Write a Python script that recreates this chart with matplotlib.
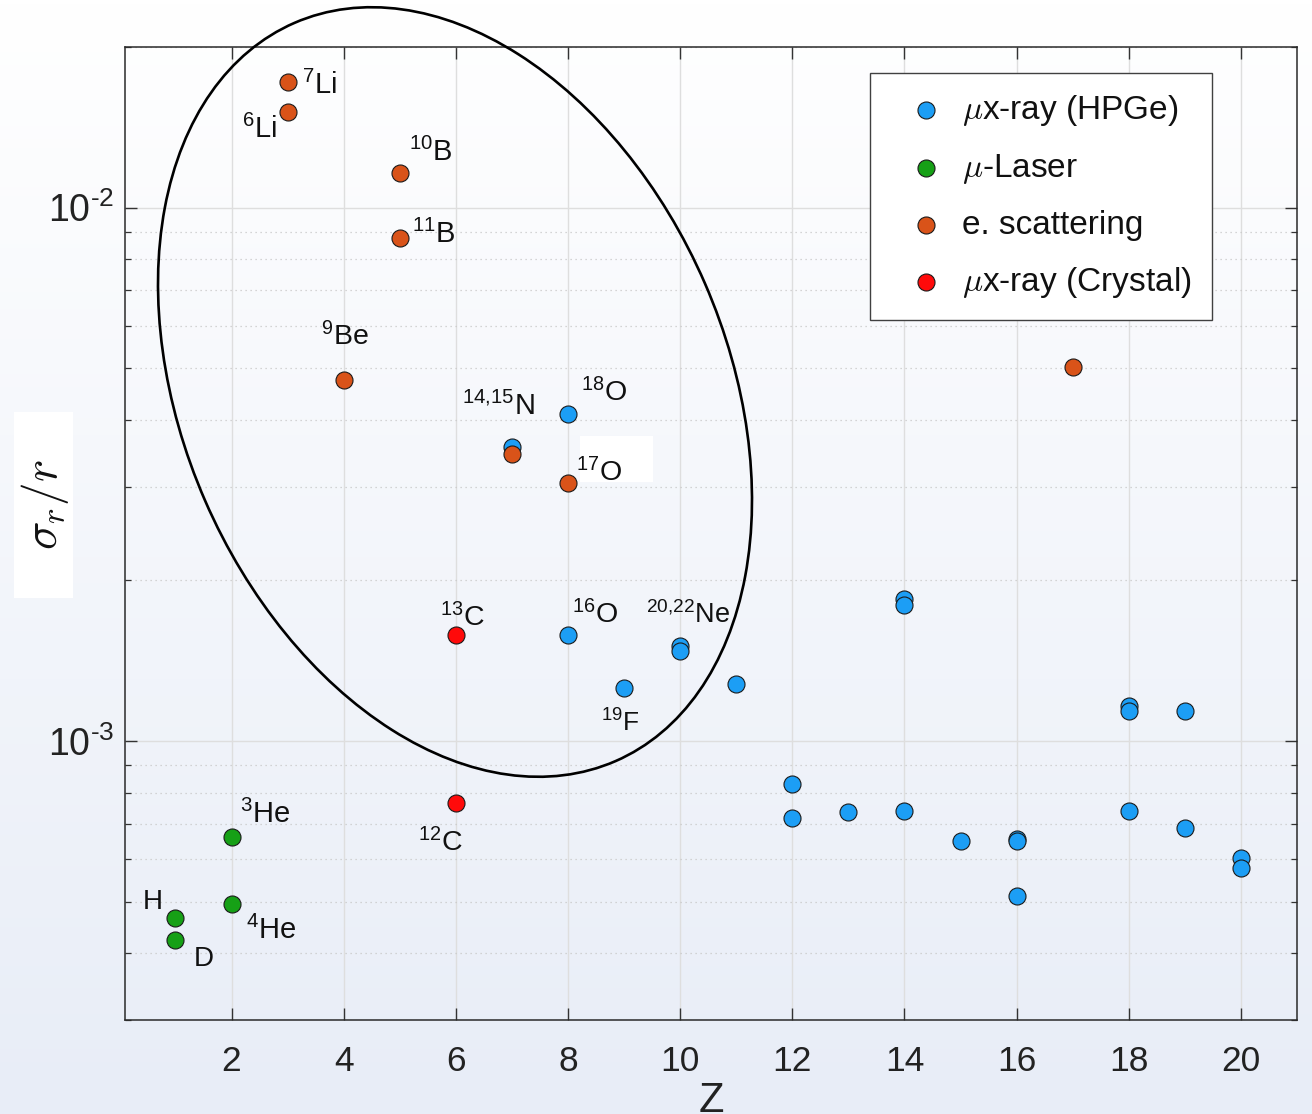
import numpy as np
import matplotlib.pyplot as plt
from matplotlib.patches import Ellipse, Rectangle
from matplotlib.ticker import LogLocator, NullFormatter
from matplotlib.transforms import Affine2D

plt.rcParams['font.family'] = ['Liberation Sans', 'DejaVu Sans']
plt.rcParams['mathtext.fontset'] = 'custom'
plt.rcParams['mathtext.rm'] = 'Liberation Sans'
plt.rcParams['mathtext.it'] = 'Liberation Sans:italic'
plt.rcParams['mathtext.bf'] = 'Liberation Sans:bold'
plt.rcParams['axes.unicode_minus'] = False

# relative charge radius uncertainty sigma_r / r against Z
hpge_z = [7, 8, 8, 9, 10, 10, 11, 12, 12, 13, 14, 14, 14, 15, 16, 16, 16,
          18, 18, 18, 19, 19, 20, 20]
hpge_val = [3.56e-3, 4.10e-3, 1.58e-3, 1.26e-3, 1.51e-3, 1.474e-3, 1.28e-3,
            8.31e-4, 7.18e-4, 7.36e-4, 1.846e-3, 1.80e-3, 7.39e-4, 6.50e-4,
            6.55e-4, 6.50e-4, 5.13e-4, 1.163e-3, 1.138e-3, 7.39e-4, 1.138e-3,
            6.87e-4, 6.04e-4, 5.78e-4]

laser_z = [1, 1, 2, 2]
laser_val = [4.65e-4, 4.24e-4, 6.61e-4, 4.96e-4]

escat_z = [3, 3, 4, 5, 5, 7, 8, 17]
escat_val = [1.718e-2, 1.509e-2, 4.75e-3, 1.159e-2, 8.76e-3, 3.45e-3, 3.04e-3, 5.02e-3]

crystal_z = [6, 6]
crystal_val = [1.58e-3, 7.66e-4]

series_names = [r'$\mu$x-ray (HPGe)', r'$\mu$-Laser', 'e. scattering', r'$\mu$x-ray (Crystal)']

# isotope labels and the point each one belongs to
label_text = [r'$^{7}$Li', r'$^{6}$Li', r'$^{10}$B', r'$^{11}$B', r'$^{9}$Be',
              r'$^{14{,}15}$N', r'$^{18}$O', r'$^{17}$O', r'$^{13}$C', r'$^{16}$O',
              r'$^{20{,}22}$Ne', r'$^{19}$F', r'$^{3}$He', r'$^{12}$C', 'H',
              r'$^{4}$He', 'D']
label_z = [3, 3, 5, 5, 4, 7, 8, 8, 6, 8, 10, 9, 2, 6, 1, 2, 1]
label_val = [1.718e-2, 1.509e-2, 1.159e-2, 8.76e-3, 4.75e-3, 3.56e-3, 4.10e-3,
             3.04e-3, 1.58e-3, 1.58e-3, 1.51e-3, 1.26e-3, 6.61e-4, 7.66e-4,
             4.65e-4, 4.96e-4, 4.24e-4]
# label offsets from the point, pixels (x right, y up)
label_dx = [14, -46, 9, 12, -23, -50, 13, 8, -16, 4, -34, -23, 8, -38, -33, 14, 18]
label_dy = [-12, -26, 12, -5, 35, 32, 13, 2, 9, 12, 23, -44, 14, -48, 9, -35, -26]
label_fs = [21, 21, 21, 21, 20.5, 21, 20.5, 20.5, 20.5, 20.5, 19.5, 19, 21, 20.5, 20, 21, 20]

W, H = 1312, 1114
fig = plt.figure(figsize=(W / 100, H / 100), dpi=100)

# soft vertical gradient background
bg = fig.add_axes([0, 0, 1, 1], zorder=-10)
top = np.array([1.0, 1.0, 1.0])
bot = np.array([232, 237, 247]) / 255
t = np.linspace(0, 1, 256)[:, None]
grad = top[None, :] * (1 - t) + bot[None, :] * t
bg.imshow(grad[:, None, :], aspect='auto', extent=[0, 1, 0, 1])
bg.axis('off')

ax = fig.add_axes([125 / W, 1 - 1020 / H, 1172 / W, 973 / H])
ax.set_facecolor('none')

mk = dict(s=150, edgecolors='#1a1a1a', linewidths=0.8, zorder=3)
ax.scatter(hpge_z, hpge_val, color='#1c9ef5', label=series_names[0], **mk)
ax.scatter(laser_z, laser_val, color='#16a016', label=series_names[1], **mk)
ax.scatter(escat_z, escat_val, color='#d95319', label=series_names[2], **mk)
ax.scatter(crystal_z, crystal_val, color='#ff0a0a', label=series_names[3], **mk)

for txt, z, v, dx, dy, fs in zip(label_text, label_z, label_val, label_dx, label_dy, label_fs):
    ax.annotate(txt, xy=(z, v), xytext=(dx * 0.72, dy * 0.72), textcoords='offset points',
                ha='left', va='baseline', fontsize=fs, color='#111111', zorder=4)

ax.set_yscale('log')

# ellipse drawn in pixel units so it keeps its shape on the log axis
pix = Affine2D().scale(1 / 100) + fig.dpi_scale_trans
ax.add_patch(Ellipse((455, H - 392), 805, 545, angle=-66.5, transform=pix,
                     fill=False, edgecolor='black', linewidth=1.9, clip_on=False, zorder=5))

# small white patch behind the 17O label
ax.add_patch(Rectangle((580 / W, 1 - 482 / H), 73 / W, 46 / H, transform=fig.transFigure,
                       facecolor='white', edgecolor='none', zorder=2))

ax.set_xlim(0.1, 21)
ax.set_ylim(3.0e-4, 2.0e-2)

ax.set_xticks(range(2, 21, 2))
ax.set_yticks([1e-3, 1e-2])
ax.set_yticklabels([r'10$^{\text{-}3}$', r'10$^{\text{-}2}$'], fontsize=27)
ax.yaxis.set_minor_locator(LogLocator(base=10, subs=np.arange(2, 10)))
ax.yaxis.set_minor_formatter(NullFormatter())
for lab in ax.get_xticklabels():
    lab.set_fontsize(25.5)

ax.tick_params(which='both', direction='in', top=True, right=True, color='#333333',
               labelcolor='#222222')
ax.tick_params(which='major', length=8.5, width=1.0)
ax.tick_params(which='minor', length=4.5, width=0.9)
ax.tick_params(axis='x', pad=18)
ax.tick_params(axis='y', pad=8)

ax.grid(True, which='major', color='#dedede', linewidth=1.0)
ax.yaxis.grid(True, which='minor', color='#c8c8c8', linestyle=(0, (1, 3)), linewidth=0.9)
ax.set_axisbelow(True)
for sp in ax.spines.values():
    sp.set_color('#2a2a2a')
    sp.set_linewidth(1.1)

leg = ax.legend(loc='upper right', bbox_to_anchor=((1212 - 125) / 1172, (1020 - 73) / 973),
                borderaxespad=0, fontsize=24, frameon=True, fancybox=False, framealpha=1,
                edgecolor='#404040', facecolor='white', scatterpoints=1, handlelength=2.16,
                handletextpad=0.0, borderpad=0.6, labelspacing=0.72)
leg.get_frame().set_linewidth(1.0)
for t_ in leg.get_texts():
    t_.set_math_fontfamily('cm')
    t_.set_color('#111111')

# axis labels
fig.add_artist(Rectangle((14 / W, 1 - 598 / H), 59 / W, 186 / H, transform=fig.transFigure,
                         facecolor='white', edgecolor='none', zorder=0.5))
fig.text(45 / W, 1 - 505 / H, r'$\sigma_r/r$', rotation=90, fontsize=34, math_fontfamily='cm',
         ha='center', va='center', color='#111111', zorder=2)
fig.text(711 / W, 1 - 1112 / H, 'Z', fontsize=30, ha='center', va='baseline', color='#222222')

fig.savefig('out.png', dpi=100)
